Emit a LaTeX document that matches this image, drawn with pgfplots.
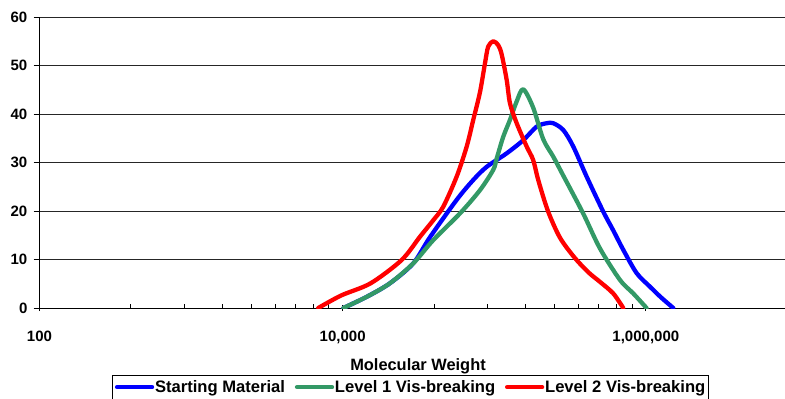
\documentclass[border=0pt]{standalone}
\usepackage{pgfplots}
\pgfplotsset{compat=1.18}
\usepackage{fontspec}
\setmainfont{Liberation Sans}
\definecolor{smblue}{RGB}{0,0,255}
\definecolor{lonegreen}{RGB}{51,153,102}
\definecolor{ltwored}{RGB}{255,0,0}
\begin{document}
\begin{tikzpicture}[x=1pt,y=1pt]
\useasboundingbox (0,0) rectangle (785,399);
\begin{axis}[
  at={(39.5pt,91pt)}, anchor=south west,
  scale only axis, width=745.5pt, height=291pt,
  xmode=log, xmin=100, xmax=8.28e6, ymin=0, ymax=60,
  axis x line*=bottom, axis y line*=left,
  x axis line style={line width=1pt, black},
  y axis line style={line width=0.8pt, black},
  xtick={100,10000,1000000}, xticklabels={100,{10,000},{1,000,000}},
  minor xtick={400,900,1600,2500,3600,4900,6400,8100,40000,90000,160000,250000,360000,490000,640000,810000},
  ytick={0,10,20,30,40,50,60}, yticklabels={0,10,20,30,40,50,60},
  ymajorgrids, major grid style={black!85, line width=0.7pt},
  xtick align=center, ytick align=outside,
  major tick length=6pt, minor tick length=4pt,
  every tick/.style={black, line width=0.8pt},
  minor x tick style={yshift=2pt},
  ticklabel style={font=\fontsize{15}{18}\selectfont\bfseries},
  xticklabel style={anchor=base, inner sep=0pt, yshift=-30pt},
  yticklabel style={anchor=east, inner sep=0pt, xshift=-6pt},
  xlabel={Molecular Weight},
  xlabel style={at={(axis description cs:0.5077,-0.2150)}, anchor=base, inner sep=0pt, font=\fontsize{16.4}{19}\selectfont\bfseries},
  legend columns=3,
  legend style={at={(axis description cs:0.4977,-0.2302)}, anchor=north, draw=black, line width=0.8pt,
    font=\fontsize{16.6}{19}\selectfont\bfseries, inner xsep=2.5pt, inner ysep=3pt,
    nodes={inner xsep=0.8pt, inner ysep=2pt},
    /tikz/every even column/.append style={column sep=9pt}},
  legend image code/.code={\draw[#1] (2pt,0pt) -- (37pt,0pt);},
  every axis plot/.append style={line width=4.3pt, line cap=round, line join=round, smooth, tension=0.5},
]
\addplot[smblue] coordinates {
(10100,0) (14400,2.3) (20500,5.1) (29200,9.2) (37670,14.6) (56500,22.3) (72700,26.4) (89100,29.1)
(120800,31.9) (155300,34.6) (190500,37.4) (221800,38.1) (245100,38.1) (285300,36.7) (332000,33.3)
(406700,27.1) (521000,20) (609500,16) (709600,12) (869000,7.2) (1064000,4.4) (1258000,2.2) (1517000,0)
};
\addlegendentry{Starting Material}
\addplot[lonegreen] coordinates {
(10100,0) (14400,2.3) (20500,5.1) (29200,9.2) (39600,14.0) (59400,19.5) (80500,24.3) (98500,28.5)
(103700,30.8) (114600,35.3) (127000,38.8) (140600,42.6) (155300,45.1) (180700,41.3) (210400,34.8)
(245100,31.2) (285300,27.3) (384600,19.6) (497700,12.3) (674500,5.8) (826000,3.0) (1011000,0)
};
\addlegendentry{Level 1 Vis-breaking}
\addplot[ltwored] coordinates {
(6900,0) (9800,2.6) (15300,5.1) (24500,9.9) (32360,14.7) (39600,18.1) (46100,20.9) (56500,27.1)
(65800,33.3) (72700,38.8) (80500,44.5) (86900,50.5) (91200,53.9) (98500,55) (106200,54.2) (111900,52.3)
(120800,47) (127000,42.2) (140600,38.1) (163600,33.3) (180700,30.5) (195000,26.4) (226000,20) (271300,14.5)
(340500,10.3) (420000,7.3) (497700,5.4) (609500,3.0) (709600,0)
};
\addlegendentry{Level 2 Vis-breaking}
\end{axis}
\end{tikzpicture}
\end{document}
